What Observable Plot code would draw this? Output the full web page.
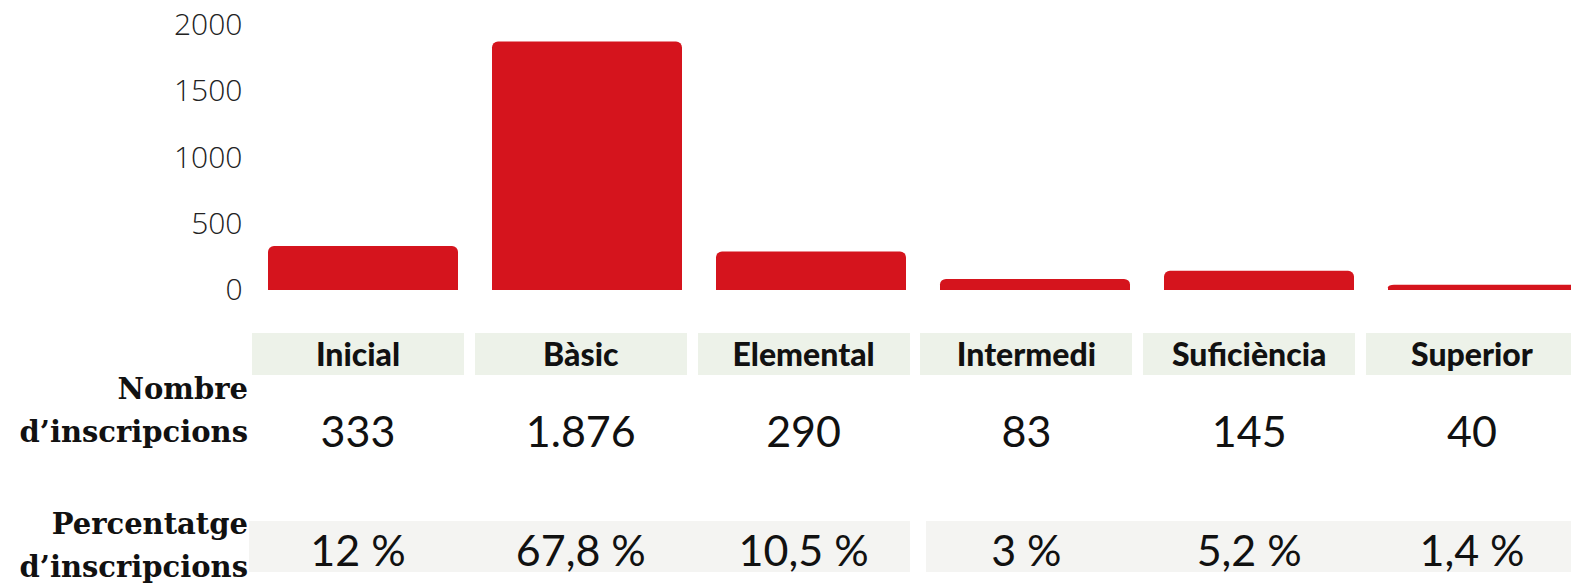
<!DOCTYPE html>
<html>
<head>
<meta charset="utf-8">
<script src="https://cdn.jsdelivr.net/npm/d3@7"></script>
<script src="https://cdn.jsdelivr.net/npm/@observablehq/plot@0.6"></script>
<style>
  html, body { margin: 0; padding: 0; background: #fff; overflow: hidden; }
  #wrap { position: relative; width: 1571px; height: 588px; overflow: hidden; }
  #chart { position: absolute; left: 0; top: 0; }
  #chart svg { max-width: none !important; }
  .cell { position: absolute; box-sizing: border-box; text-align: center; color: #111; white-space: nowrap; }
  .hdr { background: #edf2e9; font-family: Lato, sans-serif; font-weight: 900; font-size: 32px; line-height: 42px; }
  .num { font-family: Lato, sans-serif; font-weight: 400; font-size: 43px; line-height: 50px; }
  .band { position: absolute; background: #f4f4f2; }
  .rowlab { position: absolute; text-align: right; font-family: "DejaVu Serif", serif; font-weight: 700; font-size: 29px; line-height: 43px; color: #111; white-space: nowrap; }
</style>
</head>
<body>
<div id="wrap"><div id="chart"></div></div>
<script>
const categories = ["Inicial", "Bàsic", "Elemental", "Intermedi", "Suficiència", "Superior"];
const inscripcions = [333, 1876, 290, 83, 145, 40];
const percentatges = [12, 67.8, 10.5, 3, 5.2, 1.4];
const yTicks = [0, 500, 1000, 1500, 2000];
const rowLabels = [["Nombre", "d’inscripcions"], ["Percentatge", "d’inscripcions"]];

const data = categories.map((c, i) => ({cat: c, value: inscripcions[i], pct: percentatges[i]}));
const red = "#d5141d";

const chart = Plot.plot({
  width: 1620,
  height: 310,
  marginLeft: 233,
  marginRight: 7,
  marginTop: 25,
  marginBottom: 20,
  style: {fontFamily: "'Open Sans', sans-serif", fontWeight: 300, fontSize: "30px", color: "#222", background: "transparent", maxWidth: "none"},
  x: {domain: categories, padding: 0.153, round: true, axis: null},
  y: {domain: [0, 2000]},
  marks: [
    Plot.axisY({ticks: yTicks, tickSize: 0, tickPadding: 0, dx: 9, tickFormat: d => String(d), label: null, fontSize: 30}),
    // square base under the rounded tops
    Plot.barY(data, {x: "cat", y1: 0, y2: d => d.value / 2, fill: red}),
    Plot.barY(data, {x: "cat", y: "value", fill: red, rx: 6})
  ]
});
chart.style.maxWidth = "none";
document.getElementById("chart").appendChild(chart);

// Table below the chart, built from the same arrays
const fmtInt = d3.formatLocale({decimal: ",", thousands: ".", grouping: [3], currency: ["", "€"]}).format(",d");
const fmtPct = v => String(v).replace(".", ",") + "\u00a0%";
const wrap = d3.select("#wrap");
const colLeft = i => 252 + i * 222.8;
const colW = 212;

// percentage row background bands
wrap.append("div").attr("class", "band")
  .style("left", "249px").style("top", "521px")
  .style("width", (colLeft(2) + colW - 249) + "px").style("height", "51px");
wrap.append("div").attr("class", "band")
  .style("left", (colLeft(3) + 6) + "px").style("top", "521px")
  .style("width", (1571 - colLeft(3) - 6) + "px").style("height", "51px");

categories.forEach((c, i) => {
  wrap.append("div").attr("class", "cell hdr")
    .style("left", colLeft(i) + "px").style("top", "333px")
    .style("width", colW + "px").style("height", "42px")
    .text(c);
  wrap.append("div").attr("class", "cell num")
    .style("left", colLeft(i) + "px").style("top", "406px")
    .style("width", colW + "px")
    .text(fmtInt(inscripcions[i]));
  wrap.append("div").attr("class", "cell num")
    .style("left", colLeft(i) + "px").style("top", "525px")
    .style("width", colW + "px")
    .text(fmtPct(percentatges[i]));
});

rowLabels.forEach((lines, r) => {
  wrap.append("div").attr("class", "rowlab")
    .style("right", (1571 - 248) + "px")
    .style("top", (r === 0 ? 368 : 503) + "px")
    .html(lines.join("<br>"));
});
</script>
</body>
</html>
